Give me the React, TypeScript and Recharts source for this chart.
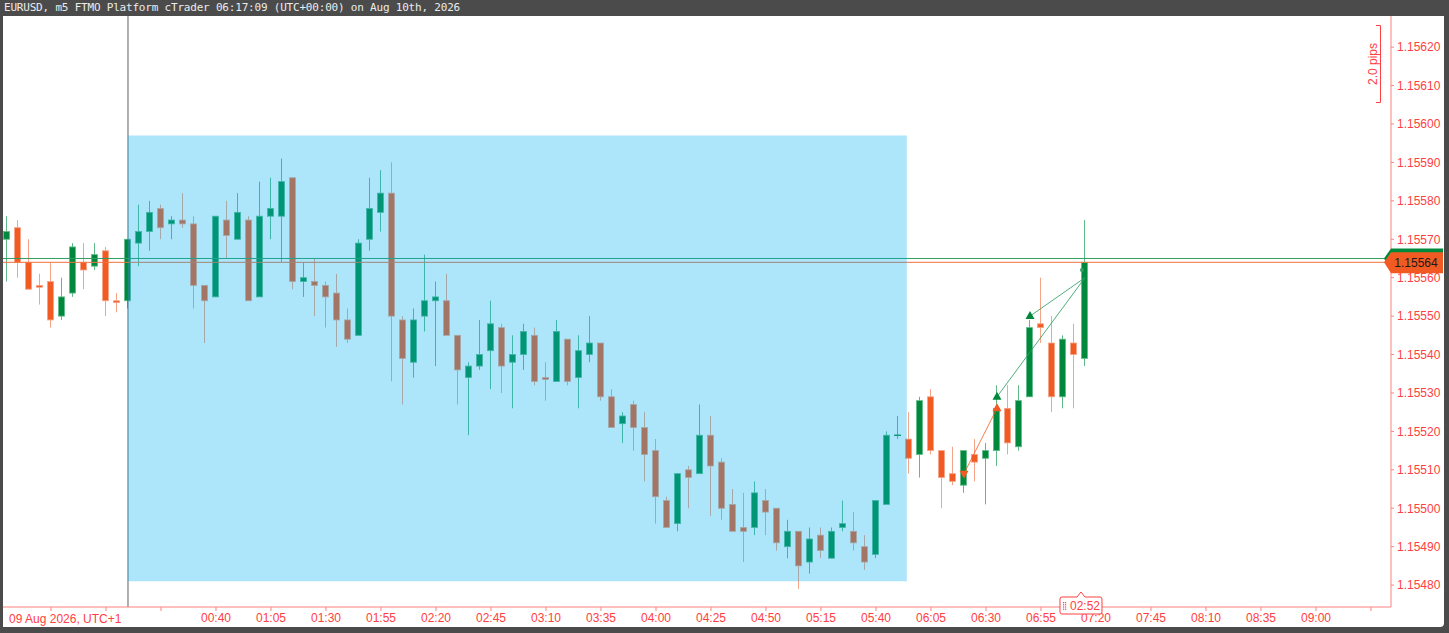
import React from 'react';
import { ComposedChart, Bar, XAxis, YAxis, ReferenceLine, ReferenceArea, ReferenceDot } from 'recharts';

// EURUSD m5 candles, 23:05 (08 Aug) .. 07:15 (09 Aug), UTC+1
const opens = [
  1.15570, 1.15573, 1.15564, 1.15558, 1.15559, 1.15550, 1.15556, 1.15564, 1.15563, 1.15567,
  1.15554, 1.15554, 1.15569, 1.15572, 1.15578, 1.15574, 1.15575, 1.15574, 1.15558, 1.15555,
  1.15575, 1.15570, 1.15575, 1.15555, 1.15576, 1.15576, 1.15586, 1.15559, 1.15559, 1.15558,
  1.15556, 1.15549, 1.15545, 1.15570, 1.15577, 1.15582, 1.15549, 1.15538, 1.15550, 1.15554,
  1.15554, 1.15545, 1.15534, 1.15537, 1.15541, 1.15547, 1.15538, 1.15540, 1.15545, 1.15534,
  1.15533, 1.15544, 1.15534, 1.15540, 1.15543, 1.15529, 1.15522, 1.15527, 1.15521, 1.15515,
  1.15502, 1.15496, 1.15510, 1.15509, 1.15519, 1.15512, 1.15501, 1.15495, 1.15495, 1.15502,
  1.15500, 1.15490, 1.15494, 1.15486, 1.15493, 1.15487, 1.15495, 1.15494, 1.15490, 1.15488,
  1.15501, 1.15519, 1.15518, 1.15514, 1.15529, 1.15515, 1.15509, 1.15506, 1.15514, 1.15513,
  1.15515, 1.15526, 1.15516, 1.15529, 1.15548, 1.15543, 1.15529, 1.15543, 1.15539,
];
const highs = [
  1.15576, 1.15575, 1.15570, 1.15561, 1.15564, 1.15560, 1.15569, 1.15569, 1.15569, 1.15568,
  1.15556, 1.15570, 1.15579, 1.15580, 1.15579, 1.15576, 1.15582, 1.15576, 1.15558, 1.15576,
  1.15580, 1.15582, 1.15576, 1.15585, 1.15586, 1.15591, 1.15586, 1.15564, 1.15565, 1.15559,
  1.15561, 1.15552, 1.15570, 1.15586, 1.15588, 1.15590, 1.15550, 1.15552, 1.15566, 1.15559,
  1.15561, 1.15545, 1.15538, 1.15549, 1.15554, 1.15548, 1.15545, 1.15548, 1.15547, 1.15538,
  1.15549, 1.15544, 1.15545, 1.15550, 1.15543, 1.15531, 1.15525, 1.15528, 1.15525, 1.15518,
  1.15503, 1.15509, 1.15511, 1.15527, 1.15524, 1.15513, 1.15505, 1.15504, 1.15507, 1.15505,
  1.15500, 1.15497, 1.15494, 1.15495, 1.15495, 1.15495, 1.15502, 1.15499, 1.15493, 1.15502,
  1.15520, 1.15524, 1.15525, 1.15529, 1.15531, 1.15515, 1.15516, 1.15515, 1.15518, 1.15517,
  1.15532, 1.15532, 1.15532, 1.15549, 1.15560, 1.15550, 1.15545, 1.15548, 1.15575,
];
const lows = [
  1.15559, 1.15560, 1.15557, 1.15553, 1.15547, 1.15549, 1.15555, 1.15557, 1.15562, 1.15550,
  1.15551, 1.15552, 1.15563, 1.15567, 1.15570, 1.15570, 1.15573, 1.15552, 1.15543, 1.15555,
  1.15565, 1.15570, 1.15554, 1.15555, 1.15570, 1.15564, 1.15557, 1.15555, 1.15550, 1.15547,
  1.15542, 1.15543, 1.15545, 1.15567, 1.15572, 1.15533, 1.15527, 1.15534, 1.15546, 1.15537,
  1.15545, 1.15527, 1.15519, 1.15536, 1.15531, 1.15530, 1.15526, 1.15536, 1.15532, 1.15528,
  1.15533, 1.15532, 1.15526, 1.15538, 1.15528, 1.15521, 1.15517, 1.15515, 1.15507, 1.15496,
  1.15495, 1.15494, 1.15500, 1.15509, 1.15498, 1.15497, 1.15494, 1.15486, 1.15493, 1.15493,
  1.15489, 1.15487, 1.15479, 1.15483, 1.15487, 1.15487, 1.15494, 1.15489, 1.15484, 1.15487,
  1.15501, 1.15518, 1.15509, 1.15508, 1.15514, 1.15500, 1.15506, 1.15504, 1.15507, 1.15501,
  1.15511, 1.15514, 1.15515, 1.15529, 1.15543, 1.15525, 1.15526, 1.15526, 1.15537,
];
const closes = [
  1.15572, 1.15564, 1.15557, 1.155575, 1.15549, 1.15555, 1.15568, 1.15562, 1.15566, 1.15554,
  1.155535, 1.15570, 1.15572, 1.15577, 1.15573, 1.15575, 1.15574, 1.15558, 1.15554, 1.15576,
  1.15571, 1.15577, 1.15554, 1.15576, 1.15578, 1.15585, 1.15559, 1.15560, 1.15558, 1.15555,
  1.15549, 1.15544, 1.15569, 1.15578, 1.15582, 1.15550, 1.15539, 1.15549, 1.15554, 1.15555,
  1.15545, 1.15536, 1.15537, 1.15540, 1.15548, 1.15537, 1.15540, 1.15546, 1.15533, 1.155335,
  1.15546, 1.15533, 1.15541, 1.15543, 1.15529, 1.15521, 1.15524, 1.15521, 1.15514, 1.15503,
  1.15495, 1.15509, 1.15508, 1.15519, 1.15511, 1.15500, 1.15494, 1.15494, 1.15504, 1.15499,
  1.15491, 1.15494, 1.15485, 1.15492, 1.15489, 1.15494, 1.15496, 1.15491, 1.15486, 1.15502,
  1.15519, 1.15519, 1.15513, 1.15528, 1.15515, 1.15508, 1.15507, 1.15515, 1.15512, 1.15515,
  1.15526, 1.15517, 1.15528, 1.15547, 1.15547, 1.15529, 1.15544, 1.15540, 1.15564,
];

const yTicks = [
  1.1548, 1.1549, 1.155, 1.1551, 1.1552, 1.1553, 1.1554, 1.1555,
  1.1556, 1.1557, 1.1558, 1.1559, 1.156, 1.1561, 1.1562,
];
const xTickIdx = [4, 9, 14, 19, 24, 29, 34, 39, 44, 49, 54, 59, 64, 69, 74, 79, 84, 89, 94, 99, 104, 109, 114, 119, 124];
const xTickLabels = [
  '', '', '', '00:40', '01:05', '01:30', '01:55', '02:20', '02:45', '03:10', '03:35', '04:00', '04:25',
  '04:50', '05:15', '05:40', '06:05', '06:30', '06:55', '07:20', '07:45', '08:10', '08:35', '09:00', '',
];

const bid = 1.15564;
const ask = 1.15565;
const daySeparatorIdx = 11;
// highlighted rectangle drawing
const boxFromIdx = 11;
const boxToIdx = 81.8;
const boxLow = 1.15481;
const boxHigh = 1.15597;

// closed trade (sell -> buy) and two open buys
const closedFromIdx = 87;
const closedFromPrice = 1.15509;
const closedToIdx = 90;
const closedToPrice = 1.15526;
const openBuyIdx = [90, 93];
const openBuyPrice = [1.15529, 1.1555];
const markIdx = 98;
const markPrice = 1.1556;
const markDotPrice = 1.15562;

const yDomain = [1.154743, 1.156281];
const xDomain = [-0.3636, 125.82];

const GREEN = '#00893c';
const GREEN_WICK = '#5fba88';
const ORANGE = '#f15a22';
const ORANGE_WICK = '#f6a487';
const RED = '#ff4040';
const RED_LINE = '#ff8080';
const ASK_LINE = '#2f9e5f';
const BID_LINE = '#f2703f';

const rows = opens.map((o, i) => ({ i, o, h: highs[i], l: lows[i], c: closes[i] }));

const Candle = (props: any) => {
  const { x, y, width, height, payload } = props;
  if (!payload) return null;
  const top = Math.min(y, y + height);
  const bot = Math.max(y, y + height);
  const { o, h, l, c } = payload;
  const k = (bot - top) / (h - l);
  const py = (p: number) => top + (h - p) * k;
  const up = c >= o;
  const col = up ? GREEN : ORANGE;
  const wick = up ? GREEN_WICK : ORANGE_WICK;
  const rx = Math.round(x);
  const w = Math.round(width);
  const cx = rx + w / 2;
  const bt = Math.min(py(o), py(c));
  const bb = Math.max(py(o), py(c));
  return (
    <g>
      <line x1={cx} x2={cx} y1={top} y2={bot} stroke={wick} strokeWidth={1} />
      {bb - bt < 1.5 ? (
        <line x1={rx} x2={rx + w} y1={(bt + bb) / 2} y2={(bt + bb) / 2} stroke={col} strokeWidth={1.3} />
      ) : (
        <rect x={rx + 0.5} y={bt} width={w - 1} height={bb - bt} fill={col} stroke={wick} strokeWidth={0.8} />
      )}
    </g>
  );
};

const PriceTag = (fill: string, text: string) => (props: any) => {
  const vb = props.viewBox || {};
  const r = vb.x + vb.width;
  const y = vb.y;
  const pts = `${r - 7},${y} ${r},${y - 10} ${r + 52},${y - 10} ${r + 52},${y + 11} ${r},${y + 11}`;
  return (
    <g>
      <polygon points={pts} fill={fill} />
      {text && (
        <text x={r + 25} y={y + 4.5} textAnchor="middle" fontSize={12} fill="#1a1a1a" fontFamily="'Liberation Sans', Arial, sans-serif">
          {text}
        </text>
      )}
    </g>
  );
};

const Triangle = (color: string, dir: 'up' | 'down') => (props: any) => {
  const { cx, cy } = props;
  const pts =
    dir === 'up'
      ? `${cx},${cy - 5} ${cx - 4.5},${cy + 3} ${cx + 4.5},${cy + 3}`
      : `${cx},${cy + 5} ${cx - 4.5},${cy - 3} ${cx + 4.5},${cy - 3}`;
  return <polygon points={pts} fill={color} />;
};

const MarkDot = (props: any) => <circle cx={props.cx - 3} cy={props.cy} r={2} fill="#2fa060" />;

const Countdown = (props: any) => {
  const { cx, cy } = props;
  const x0 = cx - 25;
  const x1 = cx + 17;
  const t = cy - 10;
  const b = cy + 7;
  const n = cx - 4;
  const d = `M${x0 + 2},${t} L${n - 4},${t} L${n},${t - 5} L${n + 4},${t} L${x1 - 2},${t} Q${x1},${t} ${x1},${t + 2} L${x1},${b - 2} Q${x1},${b} ${x1 - 2},${b} L${x0 + 2},${b} Q${x0},${b} ${x0},${b - 2} L${x0},${t + 2} Q${x0},${t} ${x0 + 2},${t} Z`;
  const dots = [];
  for (let r = 0; r < 4; r++) {
    for (let q = 0; q < 2; q++) {
      dots.push(<rect key={`${r}-${q}`} x={x0 + 3 + q * 2} y={t + 5 + r * 2.2} width={1.2} height={1.2} fill={RED} />);
    }
  }
  return (
    <g>
      <path d={d} fill="#fff" stroke={RED} strokeWidth={1} />
      {dots}
      <text x={x0 + 25} y={b - 4} textAnchor="middle" fontSize={12} fill={RED} fontFamily="'Liberation Sans', Arial, sans-serif">
        02:52
      </text>
    </g>
  );
};

export default function App() {
  const font = "'Liberation Sans', Arial, sans-serif";
  return (
    <div style={{ position: 'absolute', left: 0, top: 0, width: 1449, height: 633, background: '#4b4b4b', overflow: 'hidden' }}>
      <div
        style={{
          position: 'absolute',
          left: 4,
          top: 1,
          color: '#ececec',
          fontFamily: "'DejaVu Sans Mono', monospace",
          fontSize: 11,
          letterSpacing: -0.2,
          lineHeight: '14px',
          whiteSpace: 'pre',
        }}
      >
        EURUSD, m5 FTMO Platform cTrader 06:17:09 (UTC+00:00) on Aug 10th, 2026
      </div>
      <div
        style={{
          position: 'absolute',
          left: 3,
          top: 16,
          width: 1441,
          height: 611,
          background: '#fff',
          borderBottomRightRadius: 4,
          overflow: 'hidden',
        }}
      >
        <ComposedChart width={1441} height={611} data={rows} margin={{ top: 0, right: 0, bottom: 0, left: 0 }}>
          <XAxis
            dataKey="i"
            type="number"
            domain={xDomain}
            allowDataOverflow
            ticks={xTickIdx}
            interval={0}
            tickFormatter={(v: number) => xTickLabels[xTickIdx.indexOf(v)] ?? ''}
            height={20}
            tickSize={4}
            tickMargin={2}
            stroke={RED_LINE}
            tick={{ fill: RED, fontSize: 12, fontFamily: font }}
          />
          <YAxis
            orientation="right"
            type="number"
            domain={yDomain}
            allowDataOverflow
            ticks={yTicks}
            interval={0}
            width={53}
            tickSize={3}
            tickMargin={3}
            stroke={RED_LINE}
            tickFormatter={(v: number) => v.toFixed(5)}
            tick={{ fill: RED, fontSize: 12, fontFamily: font, textAnchor: 'start' }}
          />
          <Bar dataKey={(d: any) => [d.l, d.h]} shape={Candle} barSize={7} isAnimationActive={false} zIndex={100} />
          <ReferenceLine x={daySeparatorIdx} stroke="#606060" strokeWidth={1} zIndex={200} />
          <ReferenceLine y={ask} stroke={ASK_LINE} strokeWidth={1} zIndex={200} />
          <ReferenceLine y={bid} stroke={BID_LINE} strokeWidth={1} zIndex={200} />
          <ReferenceArea
            x1={boxFromIdx}
            x2={boxToIdx}
            y1={boxLow}
            y2={boxHigh}
            fill="#00aeef"
            fillOpacity={0.32}
            stroke="none"
            zIndex={300}
          />
          <ReferenceLine
            segment={[{ x: closedFromIdx, y: closedFromPrice }, { x: closedToIdx, y: closedToPrice }]}
            stroke={ORANGE}
            strokeOpacity={0.8}
            zIndex={400}
          />
          {openBuyIdx.map((ix, k) => (
            <ReferenceLine
              key={`ol${k}`}
              segment={[{ x: ix, y: openBuyPrice[k] }, { x: markIdx, y: markPrice }]}
              stroke="#2fa060"
              strokeOpacity={0.85}
              zIndex={400}
            />
          ))}
          <ReferenceDot x={closedFromIdx} y={closedFromPrice} r={5} shape={Triangle(ORANGE, 'down')} zIndex={450} />
          <ReferenceDot x={closedToIdx} y={closedToPrice} r={5} shape={Triangle(ORANGE, 'up')} zIndex={450} />
          {openBuyIdx.map((ix, k) => (
            <ReferenceDot key={`ot${k}`} x={ix} y={openBuyPrice[k]} r={5} shape={Triangle(GREEN, 'up')} zIndex={450} />
          ))}
          <ReferenceDot x={markIdx} y={markDotPrice} r={2} shape={MarkDot} zIndex={450} />
          <ReferenceLine y={ask} stroke="none" label={PriceTag(GREEN, '')} ifOverflow="visible" zIndex={2000} />
          <ReferenceLine y={bid} stroke="none" label={PriceTag(ORANGE, bid.toFixed(5))} ifOverflow="visible" zIndex={2001} />
          <ReferenceDot x={markIdx} y={yDomain[0]} r={5} shape={Countdown} ifOverflow="visible" zIndex={2002} />
        </ComposedChart>
        <div
          style={{
            position: 'absolute',
            left: 6,
            top: 596,
            color: RED,
            fontFamily: font,
            fontSize: 12,
            lineHeight: '14px',
            whiteSpace: 'pre',
          }}
        >
          09 Aug 2026, UTC+1
        </div>
        <svg style={{ position: 'absolute', left: 1360, top: 0 }} width={30} height={100}>
          <path d="M13,9.5 L17.5,9.5 L17.5,86.5 L13,86.5" fill="none" stroke={RED} strokeWidth={1} />
          <text
            x={0}
            y={0}
            transform="translate(14,48) rotate(-90)"
            textAnchor="middle"
            fontSize={12}
            fill={RED}
            fontFamily={font}
          >
            2.0 pips
          </text>
        </svg>
      </div>
    </div>
  );
}
